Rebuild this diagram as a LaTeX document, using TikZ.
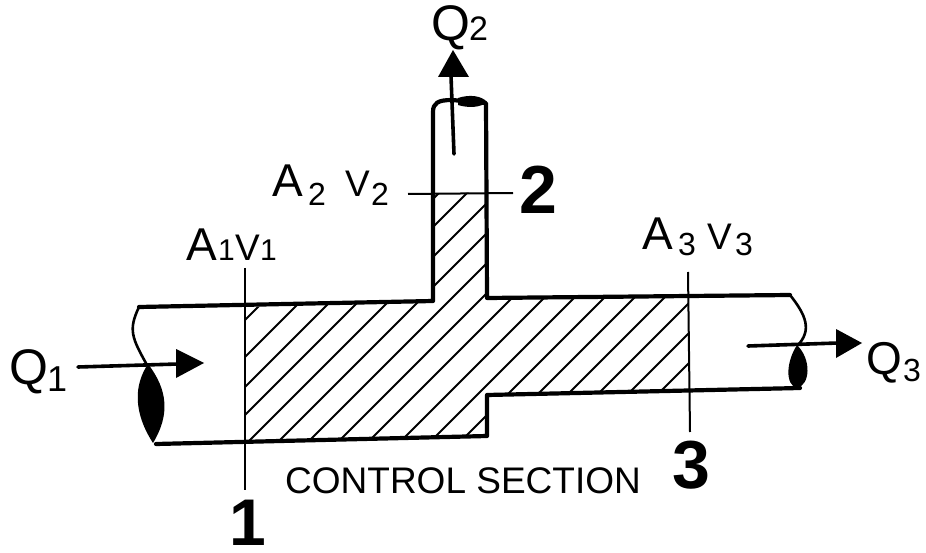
\documentclass[tikz,border=0pt]{standalone}
\usepackage{fontspec}
\setmainfont{Liberation Sans}
\newcommand{\fs}[1]{\fontsize{#1}{#1}\selectfont}
\tikzset{
  wall/.style={line width=4.2pt,line join=round,line cap=round},
  thin/.style={line width=2pt},
  hatch/.style={line width=1.8pt},
  flow/.style={line width=3.6pt,line cap=round},
  tip/.style={fill=black,draw=none},
  lab/.style={inner sep=0pt,anchor=base west},
}
\begin{document}
\begin{tikzpicture}[x=1pt,y=-1pt]
\useasboundingbox (0,0) rectangle (926,553);
% hatching
\begin{scope}
\clip (245,307) -- (433,301) -- (433,194) -- (487,192) -- (487,298) -- (688,295) -- (688,390) -- (487,395) -- (487,436) -- (245,441) -- cycle;
\foreach \c in {565,602,632,660,690,720,750,780,810,842,872,902,932,962,992,1022,1052,1082}
  \draw[hatch] (200,\c-200) -- (720,\c-720);
\end{scope}
% pipe outline
\coordinate (tl) at (139,307);
\coordinate (bl) at (156,444);
\draw[wall] (139,307) -- (433,301) -- (433,112) .. controls (433,103) and (438,100) .. (452,100);
\draw[wall] (452,100) -- (486,103) -- (487,298) -- (790,295);
\draw[wall] (800,388) -- (487,395) -- (487,436) -- (156,444);
% left break
\draw[line width=2.6pt] (139,307) .. controls (128,330) and (132,338) .. (147,365);
\fill[black] (148,364) .. controls (134,385) and (133,412) .. (153,443) .. controls (170,415) and (168,390) .. (148,364) -- cycle;
% right break
\draw[line width=2.6pt] (790,295) .. controls (806,315) and (812,330) .. (798,345);
\fill[black] (797,345) .. controls (786,362) and (785,385) .. (797,388) .. controls (810,385) and (812,360) .. (797,345) -- cycle;
% top cap
\fill[black] (458,98) .. controls (470,94) and (482,96) .. (487,102) .. controls (480,108) and (468,108) .. (458,105) -- cycle;
% section lines
\coordinate (s1a) at (245,268); \coordinate (s1b) at (245,490);
\coordinate (s2a) at (408,194); \coordinate (s2b) at (513,193);
\coordinate (s3a) at (688,272); \coordinate (s3b) at (690,432);
\draw[thin] (s1a) -- (s1b);
\draw[thin] (s2a) -- (s2b);
\draw[thin] (s3a) -- (s3b);
% flow arrows
\coordinate (f1a) at (78,367); \coordinate (f1b) at (178,364);
\coordinate (f2a) at (454,154); \coordinate (f2b) at (451,76);
\coordinate (f3a) at (748,346); \coordinate (f3b) at (838,343);
\draw[flow] (f1a) -- (f1b);
\draw[flow] (f2a) -- (f2b);
\draw[flow] (f3a) -- (f3b);
\fill[tip] (176,349) -- (204,363) -- (176,378) -- cycle;
\fill[tip] (438,77) -- (453,50) -- (469,77) -- cycle;
\fill[tip] (836,329) -- (862,343) -- (836,358) -- cycle;
% labels
\node[lab] (q1) at (9,384) {\fs{50}Q};
\node[lab] (q1s) at (47,391) {\fs{36}1};
\node[lab] (q2) at (431,41) {\fs{50}Q};
\node[lab] (q2s) at (469,41) {\fs{34}2};
\node[lab] (q3) at (866,374) {\fs{46}Q};
\node[lab] (q3s) at (903,381) {\fs{32}3};
\node[lab] (a1) at (186,261) {\fs{46}A};
\node[lab] (a1s) at (218,261) {\fs{30}1};
\node[lab] (v1) at (235,261) {\fs{37}V};
\node[lab] (v1s) at (260,261) {\fs{30}1};
\node[lab] (a2) at (272,197) {\fs{46}A};
\node[lab] (a2s) at (308,206) {\fs{32}2};
\node[lab] (v2) at (345,197) {\fs{37}V};
\node[lab] (v2s) at (371,206) {\fs{32}2};
\node[lab] (a3) at (642,250) {\fs{46}A};
\node[lab] (a3s) at (678,256) {\fs{32}3};
\node[lab] (v3) at (707,250) {\fs{37}V};
\node[lab] (v3s) at (735,256) {\fs{32}3};
\node[lab,font=\bfseries] (n1) at (229,545) {\fs{66}1};
\node[lab,font=\bfseries] (n2) at (519,214) {\fs{68}2};
\node[lab,font=\bfseries] (n3) at (672,488) {\fs{68}3};
\node[lab] (cs) at (285,493) {\fs{37}CONTROL SECTION};
\end{tikzpicture}
\end{document}
